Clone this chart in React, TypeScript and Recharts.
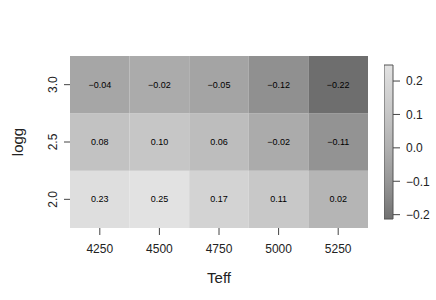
import React from "react";
import { ComposedChart, XAxis, YAxis, ReferenceArea, Label } from "recharts";

const teffValues = [4250, 4500, 4750, 5000, 5250];
const loggValues = [2.0, 2.5, 3.0];
const rowLogg20 = [0.23, 0.25, 0.17, 0.11, 0.02];
const rowLogg25 = [0.08, 0.1, 0.06, -0.02, -0.11];
const rowLogg30 = [-0.04, -0.02, -0.05, -0.12, -0.22];
const rows = [rowLogg20, rowLogg25, rowLogg30];
const colorbarTicks = [-0.2, -0.1, 0, 0.1, 0.2];

const Z_MIN = -0.22;
const Z_MAX = 0.25;
const FONT = "'Liberation Sans', Arial, Helvetica, sans-serif";

const gA = Math.pow(0.43, 2.2);
const gB = Math.pow(0.886, 2.2);
function grayFor(v: number): string {
  let t = (v - Z_MIN) / (Z_MAX - Z_MIN);
  t = Math.max(0, Math.min(1, t));
  const lvl = Math.pow(gA + t * (gB - gA), 1 / 2.2);
  const c = Math.round(lvl * 255);
  const h = c.toString(16).padStart(2, "0");
  return `#${h}${h}${h}`;
}

const cells = rows.flatMap((row, ri) =>
  row.map((v, ci) => ({ teff: teffValues[ci], logg: loggValues[ri], v }))
);

const fmt = (v: number) => (v < 0 ? "\u2212" : "") + Math.abs(v).toFixed(2);
const fmt1 = (v: number) => (v < 0 ? "\u2212" : "") + Math.abs(v).toFixed(1);

const YTick = (props: any) => {
  const { x, y, payload } = props;
  return (
    <text
      x={x}
      y={y}
      transform={`rotate(-90, ${x}, ${y})`}
      textAnchor="middle"
      fontSize={12}
      fontFamily={FONT}
      fill="#222"
    >
      {Number(payload.value).toFixed(1)}
    </text>
  );
};

const CellLabel = (props: any) => {
  const vb = props.viewBox;
  return (
    <text
      x={vb.x + vb.width / 2}
      y={vb.y + vb.height / 2}
      dy="0.35em"
      textAnchor="middle"
      fontSize={9}
      fontFamily={FONT}
      fill="#000"
    >
      {props.value}
    </text>
  );
};

const gradStops = Array.from({ length: 21 }, (_, i) => i / 20);

export default function App() {
  return (
    <div style={{ position: "absolute", left: 0, top: 0, width: 436, height: 300, background: "#fff" }}>
      <div style={{ position: "absolute", left: 0, top: 0 }}>
        <ComposedChart
          width={436}
          height={300}
          data={cells}
          margin={{ top: 56, right: 68, bottom: 12, left: 12 }}
        >
          <XAxis
            dataKey="teff"
            type="number"
            domain={[4125, 5375]}
            ticks={teffValues}
            allowDataOverflow
            axisLine={false}
            tickSize={7}
            tickMargin={9}
            tickLine={{ stroke: "#444" }}
            tick={{ fontSize: 12, fontFamily: FONT, fill: "#222" }}
            height={60}
          >
            <Label
              content={(p: any) => {
                const vb = p.viewBox;
                return (
                  <text x={vb.x + vb.width / 2} y={283} textAnchor="middle" fontSize={15} fontFamily={FONT} fill="#222">
                    Teff
                  </text>
                );
              }}
            />
          </XAxis>
          <YAxis
            dataKey="logg"
            type="number"
            domain={[1.75, 3.25]}
            ticks={loggValues}
            allowDataOverflow
            axisLine={false}
            tickSize={6}
            tickMargin={7}
            tickLine={{ stroke: "#444" }}
            tick={<YTick />}
            width={58}
          >
            <Label
              content={(p: any) => {
                const vb = p.viewBox;
                const cy = vb.y + vb.height / 2;
                return (
                  <text x={23} y={cy} transform={`rotate(-90, 23, ${cy})`} textAnchor="middle" fontSize={15} fontFamily={FONT} fill="#222">
                    logg
                  </text>
                );
              }}
            />
          </YAxis>
          {cells.map((c, i) => (
            <ReferenceArea
              key={i}
              x1={c.teff - 125}
              x2={c.teff + 125}
              y1={c.logg - 0.25}
              y2={c.logg + 0.25}
              fill={grayFor(c.v)}
              fillOpacity={1}
              stroke="none"
              ifOverflow="extendDomain"
              label={<CellLabel value={fmt(c.v)} />}
            />
          ))}
        </ComposedChart>
      </div>
      <div style={{ position: "absolute", left: 384, top: 0 }}>
        <ComposedChart
          width={52}
          height={300}
          data={[{ x: 0 }, { x: 1 }]}
          margin={{ top: 65, bottom: 81, left: 0, right: 0 }}
        >
          <defs>
            <linearGradient id="cbar" x1="0" y1="0" x2="0" y2="1">
              {gradStops.map((s) => (
                <stop key={s} offset={s} stopColor={grayFor(0.248 - s * (0.248 + 0.213))} />
              ))}
            </linearGradient>
          </defs>
          <XAxis dataKey="x" type="number" domain={[0, 1]} hide />
          <YAxis
            orientation="right"
            type="number"
            domain={[-0.213, 0.248]}
            allowDataOverflow
            ticks={colorbarTicks}
            axisLine={false}
            tickSize={7}
            tickMargin={6}
            tickLine={{ stroke: "#444" }}
            tick={{ fontSize: 12, fontFamily: FONT, fill: "#222", textAnchor: "start" }}
            tickFormatter={(v: number) => fmt1(v)}
            width={43}
          />
          <ReferenceArea
            x1={0}
            x2={1}
            y1={-0.213}
            y2={0.248}
            fill="url(#cbar)"
            fillOpacity={1}
            stroke="#555"
            strokeWidth={1}
          />
        </ComposedChart>
      </div>
    </div>
  );
}
